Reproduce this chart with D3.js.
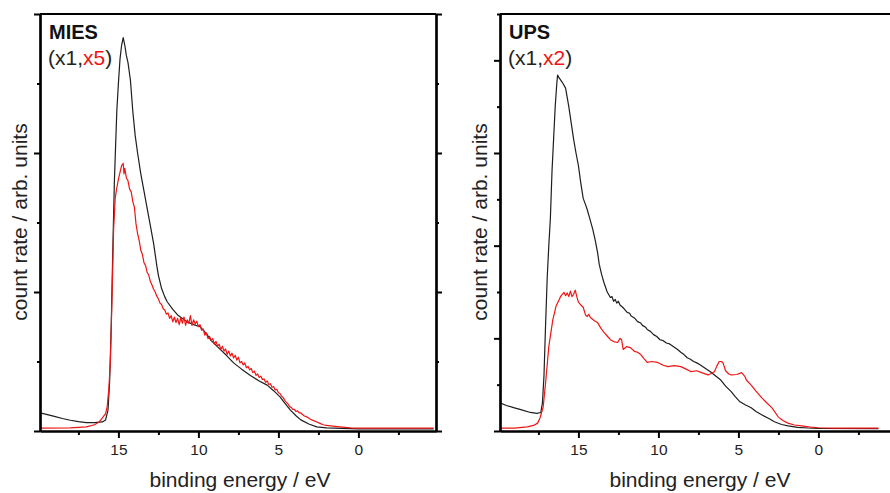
<!DOCTYPE html>
<html>
<head>
<meta charset="utf-8">
<script src="https://cdn.jsdelivr.net/npm/d3@7"></script>
<style>
  body { margin: 0; background: #fff; }
  svg { display: block; font-family: "Liberation Sans", Arial, sans-serif; }
</style>
</head>
<body>
<div id="chart"></div>
<script>
// tick values (binding energy in eV, count rate in arbitrary units)
const xMajorTicks = [15, 10, 5, 0];
const xMinorTicks = [17.5, 12.5, 7.5, 2.5, -2.5];
const miesYMajor = [0, 2, 4, 6];
const miesYMinor = [1, 3, 5];
const upsYMajor = [0, 2, 4, 6, 8];
const upsYMinor = [1, 3, 5, 7, 9];

// MIES spectrum, black trace (x1) : [energy, count rate]
const miesBlack = [
  [19.9, 0.26], [19.5, 0.24], [19.0, 0.21], [18.5, 0.18], [18.0, 0.155], [17.5, 0.135],
  [17.0, 0.12], [16.5, 0.12], [16.0, 0.13], [15.8, 0.16], [15.65, 0.3], [15.55, 0.7],
  [15.45, 1.5], [15.35, 2.6], [15.25, 3.6], [15.1, 4.6], [15.0, 5.0], [14.9, 5.35],
  [14.8, 5.55], [14.7, 5.66], [14.6, 5.55], [14.5, 5.4], [14.4, 5.3], [14.25, 5.05],
  [14.1, 4.6], [13.95, 4.25], [13.8, 4.0], [13.6, 3.7], [13.4, 3.45], [13.2, 3.2],
  [13.0, 2.95], [12.8, 2.7], [12.6, 2.38], [12.5, 2.24], [12.3, 2.05], [12.1, 1.93],
  [11.95, 1.86], [11.6, 1.75], [11.3, 1.67], [11.0, 1.62], [10.7, 1.57], [10.3, 1.53],
  [9.9, 1.5], [9.5, 1.4], [9.2, 1.3], [8.8, 1.21], [8.3, 1.1], [7.8, 0.98], [7.3, 0.89],
  [6.75, 0.8], [6.2, 0.72], [5.7, 0.66], [5.3, 0.58], [4.9, 0.49], [4.6, 0.4], [4.25, 0.3],
  [3.9, 0.22], [3.6, 0.16], [3.1, 0.1], [2.6, 0.06], [2.0, 0.045], [1.5, 0.04], [0, 0.03],
  [-4.7, 0.03]
];

// MIES spectrum, red trace (x5)
const miesRed = [
  [19.9, 0.04], [18.0, 0.045], [17.0, 0.06], [16.5, 0.09], [16.2, 0.13], [16.0, 0.19],
  [15.8, 0.25], [15.7, 0.35], [15.6, 0.6], [15.5, 1.0], [15.4, 1.9], [15.3, 2.9],
  [15.2, 3.35], [15.1, 3.5], [15.0, 3.62], [14.9, 3.72], [14.8, 3.82], [14.7, 3.85],
  [14.65, 3.7], [14.6, 3.78], [14.5, 3.64], [14.4, 3.6], [14.3, 3.48], [14.2, 3.44],
  [14.1, 3.3], [14.0, 3.22], [13.9, 2.98], [13.8, 2.84], [13.7, 2.74], [13.6, 2.6],
  [13.5, 2.54], [13.4, 2.42], [13.3, 2.38], [13.2, 2.28], [13.1, 2.24], [13.0, 2.15],
  [12.9, 2.1], [12.8, 2.04], [12.7, 2.0], [12.6, 1.94], [12.5, 1.9], [12.4, 1.84],
  [12.3, 1.82], [12.2, 1.76], [12.1, 1.74], [12.0, 1.68], [11.9, 1.7], [11.8, 1.62],
  [11.7, 1.66], [11.6, 1.57], [11.5, 1.64], [11.4, 1.56], [11.3, 1.62], [11.2, 1.53],
  [11.1, 1.63], [11.0, 1.55], [10.9, 1.64], [10.8, 1.52], [10.7, 1.6], [10.6, 1.55],
  [10.5, 1.66], [10.4, 1.52], [10.3, 1.6], [10.2, 1.54], [10.1, 1.58], [10.0, 1.5],
  [9.9, 1.53], [9.8, 1.45], [9.7, 1.47], [9.6, 1.38], [9.5, 1.41], [9.4, 1.33],
  [9.3, 1.36], [9.2, 1.3], [9.1, 1.33], [9.0, 1.25], [8.9, 1.29], [8.8, 1.22],
  [8.7, 1.25], [8.6, 1.17], [8.5, 1.22], [8.4, 1.15], [8.3, 1.18], [8.2, 1.1],
  [8.1, 1.15], [8.0, 1.08], [7.9, 1.12], [7.8, 1.05], [7.7, 1.09], [7.6, 1.02],
  [7.5, 1.06], [7.4, 0.98], [7.3, 1.0], [7.2, 0.95], [7.1, 0.98], [7.0, 0.91],
  [6.9, 0.93], [6.8, 0.88], [6.7, 0.9], [6.6, 0.84], [6.5, 0.86], [6.4, 0.8],
  [6.3, 0.82], [6.2, 0.77], [6.1, 0.79], [6.0, 0.74], [5.9, 0.75], [5.8, 0.7],
  [5.7, 0.72], [5.6, 0.67], [5.5, 0.68], [5.4, 0.63], [5.3, 0.64], [5.2, 0.59],
  [5.1, 0.6], [5.0, 0.55], [4.9, 0.54], [4.8, 0.5], [4.7, 0.48], [4.6, 0.44],
  [4.5, 0.41], [4.4, 0.39], [4.3, 0.35], [4.2, 0.34], [4.1, 0.31], [4.0, 0.31],
  [3.9, 0.28], [3.8, 0.29], [3.7, 0.26], [3.6, 0.26], [3.4, 0.22], [3.2, 0.2],
  [3.0, 0.17], [2.8, 0.15], [2.6, 0.13], [2.4, 0.11], [2.2, 0.09], [2.0, 0.08],
  [1.6, 0.07], [1.0, 0.055], [0.5, 0.045], [0, 0.04], [-4.7, 0.04]
];

// UPS spectrum, black trace (x1)
const upsBlack = [
  [19.9, 0.61], [19.5, 0.55], [19.0, 0.5], [18.6, 0.46], [18.0, 0.4], [17.6, 0.38],
  [17.35, 0.4], [17.25, 0.6], [17.15, 1.2], [17.06, 2.2], [16.95, 3.3], [16.85, 4.0],
  [16.75, 4.6], [16.65, 5.6], [16.55, 6.3], [16.45, 7.0], [16.35, 7.5], [16.3, 7.68],
  [16.2, 7.62], [16.0, 7.52], [15.8, 7.4], [15.7, 7.2], [15.6, 7.0], [15.45, 6.65],
  [15.3, 6.3], [15.15, 6.0], [15.0, 5.73], [14.85, 5.35], [14.7, 5.02], [14.55, 4.88],
  [14.45, 4.78], [14.3, 4.6], [14.1, 4.35], [13.95, 4.12], [13.8, 3.85], [13.7, 3.6],
  [13.55, 3.38], [13.4, 3.2], [13.2, 3.0], [13.0, 2.88], [12.9, 2.9], [12.8, 2.8],
  [12.7, 2.84], [12.6, 2.76], [12.5, 2.8], [12.4, 2.72], [12.2, 2.66], [12.1, 2.62],
  [11.95, 2.56], [11.8, 2.54], [11.7, 2.48], [11.5, 2.44], [11.3, 2.36], [11.1, 2.33],
  [11.0, 2.28], [10.8, 2.24], [10.7, 2.19], [10.5, 2.15], [10.3, 2.08], [10.1, 2.04],
  [9.9, 1.97], [9.7, 1.95], [9.5, 1.9], [9.3, 1.88], [9.05, 1.82], [8.8, 1.76],
  [8.6, 1.7], [8.4, 1.65], [8.2, 1.58], [8.0, 1.55], [7.8, 1.5], [7.6, 1.47],
  [7.4, 1.43], [7.1, 1.36], [6.75, 1.28], [6.4, 1.18], [6.1, 1.1], [5.8, 0.97],
  [5.45, 0.85], [5.2, 0.74], [4.9, 0.63], [4.55, 0.56], [4.2, 0.5], [3.9, 0.42],
  [3.55, 0.35], [3.1, 0.27], [2.75, 0.2], [2.3, 0.14], [1.9, 0.11], [1.3, 0.08],
  [0.65, 0.065], [0, 0.055], [-3.75, 0.05]
];

// UPS spectrum, red trace (x2)
const upsRed = [
  [19.9, 0.06], [19.0, 0.06], [18.2, 0.09], [17.8, 0.12], [17.55, 0.17], [17.4, 0.28],
  [17.2, 0.52], [17.05, 1.04], [16.85, 1.82], [16.6, 2.4], [16.4, 2.69], [16.1, 2.91],
  [15.9, 2.99], [15.8, 2.92], [15.7, 2.98], [15.6, 2.9], [15.5, 3.02], [15.4, 2.9],
  [15.3, 2.95], [15.2, 3.04], [15.1, 2.9], [15.0, 2.78], [14.85, 2.72], [14.7, 2.67],
  [14.55, 2.5], [14.45, 2.47], [14.35, 2.52], [14.25, 2.45], [14.0, 2.38], [13.8, 2.34],
  [13.6, 2.22], [13.4, 2.13], [13.2, 2.05], [13.0, 1.97], [12.8, 1.93], [12.55, 1.91],
  [12.4, 2.0], [12.3, 1.97], [12.2, 1.76], [12.0, 1.82], [11.75, 1.8], [11.5, 1.72],
  [11.3, 1.7], [11.1, 1.65], [10.9, 1.56], [10.7, 1.48], [10.4, 1.5], [10.05, 1.48],
  [9.7, 1.42], [9.4, 1.39], [9.0, 1.41], [8.6, 1.39], [8.3, 1.34], [7.95, 1.28],
  [7.6, 1.3], [7.3, 1.26], [6.9, 1.21], [6.7, 1.24], [6.5, 1.28], [6.35, 1.4],
  [6.2, 1.5], [6.05, 1.5], [5.95, 1.46], [5.8, 1.3], [5.6, 1.23], [5.45, 1.21],
  [5.1, 1.22], [4.8, 1.26], [4.6, 1.18], [4.5, 1.1], [4.2, 0.99], [3.9, 0.86],
  [3.55, 0.72], [3.2, 0.6], [2.9, 0.5], [2.7, 0.4], [2.5, 0.3], [2.2, 0.22],
  [1.9, 0.17], [1.5, 0.13], [1.05, 0.11], [0.5, 0.085], [0, 0.07], [-1, 0.06],
  [-3.75, 0.06]
];

const width = 890, height = 493;
const svg = d3.select("#chart").append("svg")
  .attr("width", width)
  .attr("height", height);

const panels = [
  { id: "mies", left: 40, title: "MIES", factor: "x5", yMax: 6, yMajor: miesYMajor, yMinor: miesYMinor,
    black: miesBlack, red: miesRed },
  { id: "ups", left: 500, title: "UPS", factor: "x2", yMax: 9, yMajor: upsYMajor, yMinor: upsYMinor,
    black: upsBlack, red: upsRed }
];

const plotTop = 14, plotBottom = 431, plotW = 396;

panels.forEach(p => {
  let x = d3.scaleLinear().domain([19.9, -4.85]).range([p.left, p.left + plotW]);
  let y = d3.scaleLinear().domain([0, p.yMax]).range([plotBottom, plotTop]);

  let g = svg.append("g");

  g.append("clipPath").attr("id", "clip-" + p.id)
    .append("rect")
    .attr("x", p.left).attr("y", plotTop)
    .attr("width", plotW).attr("height", plotBottom - plotTop);

  // spectra
  let line = d3.line().x(d => x(d[0])).y(d => y(d[1]));
  g.append("path").datum(p.black)
    .attr("clip-path", `url(#clip-${p.id})`)
    .attr("fill", "none").attr("stroke", "#1e1e1e").attr("stroke-width", 1.2)
    .attr("stroke-linejoin", "round")
    .attr("d", line);
  g.append("path").datum(p.red)
    .attr("clip-path", `url(#clip-${p.id})`)
    .attr("fill", "none").attr("stroke", "#f01414").attr("stroke-width", 1.2)
    .attr("stroke-linejoin", "round")
    .attr("d", line);

  // bottom axis, major + minor ticks
  let xAxis = g.append("g")
    .attr("transform", `translate(0, ${plotBottom})`)
    .call(d3.axisBottom(x).tickValues(xMajorTicks).tickSize(7).tickSizeOuter(0).tickPadding(6));
  g.append("g")
    .attr("transform", `translate(0, ${plotBottom})`)
    .call(d3.axisBottom(x).tickValues(xMinorTicks).tickSize(4).tickFormat("").tickSizeOuter(0));

  // left and right axes (mirrored ticks)
  g.append("g").attr("transform", `translate(${p.left}, 0)`)
    .call(d3.axisLeft(y).tickValues(p.yMajor).tickSize(6).tickFormat("").tickSizeOuter(0));
  g.append("g").attr("transform", `translate(${p.left}, 0)`)
    .call(d3.axisLeft(y).tickValues(p.yMinor).tickSize(3).tickFormat("").tickSizeOuter(0));
  g.append("g").attr("transform", `translate(${p.left + plotW}, 0)`)
    .call(d3.axisRight(y).tickValues(p.yMajor).tickSize(6).tickFormat("").tickSizeOuter(0));
  g.append("g").attr("transform", `translate(${p.left + plotW}, 0)`)
    .call(d3.axisRight(y).tickValues(p.yMinor).tickSize(3).tickFormat("").tickSizeOuter(0));

  // top edge of the frame
  g.append("line")
    .attr("x1", p.left).attr("x2", p.left + plotW)
    .attr("y1", plotTop).attr("y2", plotTop)
    .attr("stroke", "#000").attr("stroke-width", 2.2);

  g.selectAll(".domain").attr("stroke", "#000").attr("stroke-width", 2.2);
  g.selectAll(".tick line").attr("stroke", "#000").attr("stroke-width", 2);
  xAxis.selectAll(".tick text")
    .attr("font-size", 15.5).attr("fill", "#222")
    .style("font-family", "'Liberation Sans', Arial, sans-serif");

  // axis titles
  g.append("text")
    .attr("x", p.left + 200).attr("y", 487)
    .attr("text-anchor", "middle")
    .attr("font-size", 21).attr("fill", "#222")
    .text("binding energy / eV");
  g.append("text")
    .attr("transform", `translate(${p.left - 13}, 222) rotate(-90)`)
    .attr("text-anchor", "middle")
    .attr("font-size", 21).attr("fill", "#222")
    .text("count rate / arb. units");

  // panel labels
  g.append("text")
    .attr("x", p.left + 9).attr("y", 39)
    .attr("font-size", 20).attr("font-weight", "bold").attr("fill", "#111")
    .text(p.title);
  let t = g.append("text")
    .attr("x", p.left + 8).attr("y", 65)
    .attr("font-size", 21).attr("fill", "#222");
  t.append("tspan").text("(x1,");
  t.append("tspan").attr("fill", "#f01414").text(p.factor);
  t.append("tspan").text(")");
});
</script>
</body>
</html>
